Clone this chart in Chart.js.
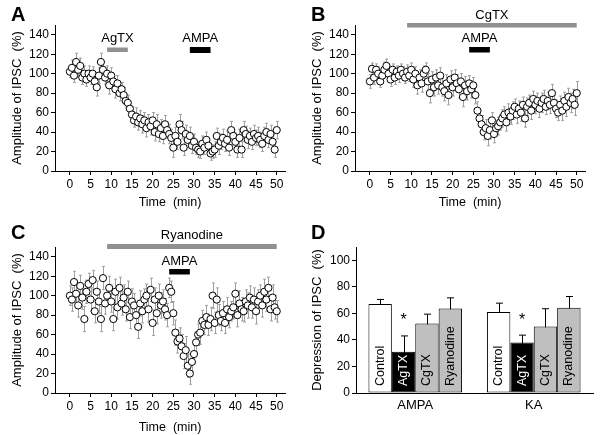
<!DOCTYPE html>
<html>
<head>
<meta charset="utf-8">
<script src="https://cdn.jsdelivr.net/npm/chart.js@4.4.1/dist/chart.umd.min.js"></script>
<style>
  body { margin: 0; background: #fff; }
  #wrap { position: relative; width: 600px; height: 435px; font-family: "Liberation Sans", Arial, sans-serif; }
  canvas { position: absolute; }
</style>
</head>
<body>
<div id="wrap">
  <canvas id="cA" width="300" height="210" style="left:0;top:0"></canvas>
  <canvas id="cB" width="300" height="210" style="left:300px;top:0"></canvas>
  <canvas id="cC" width="300" height="225" style="left:0;top:210px"></canvas>
  <canvas id="cD" width="300" height="225" style="left:300px;top:210px"></canvas>
</div>
<script>
// amplitude of IPSC (%), one value every 0.5 min from 0 to 50 min
const ampA = [102,106,98,112,104,108,96,100,94,100,96,100,92,86,98,112,104,96,100,88,
  98,92,84,90,80,84,78,72,70,64,58,52,56,50,54,48,52,44,50,46,
  52,40,48,38,44,36,48,42,38,34,24,36,30,48,42,24,38,32,36,26,
  30,24,22,20,28,24,32,26,18,20,22,36,26,30,34,28,32,24,42,36,
  30,22,34,22,42,38,32,36,30,38,34,36,32,28,36,40,32,38,30,22,42];
const errA = [6,8,7,9,8,8,7,8,7,8,7,7,8,9,8,9,8,7,8,9,
  8,7,9,8,8,7,8,7,8,7,8,7,9,8,8,9,8,9,8,9,
  8,9,10,8,9,8,9,8,10,9,10,9,8,10,9,8,9,8,9,8,
  8,7,8,7,8,7,8,8,7,7,8,8,9,8,9,8,9,8,9,8,
  9,8,9,8,9,8,9,8,8,9,8,9,8,8,9,9,8,9,8,8,9];
const ampB = [92,105,96,104,100,92,98,104,108,100,94,104,96,102,98,104,100,96,102,98,
  104,94,100,88,96,90,100,104,92,80,94,86,96,88,98,86,82,90,78,94,
  86,96,90,84,92,76,88,82,90,84,88,78,62,54,48,40,44,36,42,52,
  38,44,46,50,54,58,50,60,56,62,66,58,64,60,68,54,66,70,62,74,
  68,72,64,70,74,66,72,68,80,70,64,60,68,62,72,66,76,70,74,68,80];
const errB = [7,6,7,6,7,6,7,8,7,6,7,6,7,6,7,6,7,6,7,6,
  7,8,7,9,8,9,8,7,8,10,8,9,8,9,8,9,10,9,10,9,
  9,8,9,9,8,10,9,9,8,9,8,9,9,8,9,8,9,10,9,8,
  9,8,9,8,9,8,9,9,8,9,8,9,8,9,8,9,9,8,9,8,
  9,8,9,10,9,8,9,9,9,8,9,8,9,10,9,10,9,10,10,11,12];
const ampC = [100,96,114,102,90,110,98,76,104,112,96,116,84,104,94,76,118,92,100,108,
  94,76,104,88,108,92,98,86,104,78,94,90,80,68,92,84,96,100,86,106,
  72,96,82,100,90,94,86,80,108,104,82,62,53,56,48,38,44,28,20,32,
  40,52,60,62,74,70,78,70,76,100,72,96,80,74,82,72,86,78,84,88,
  102,80,92,86,84,94,90,98,88,96,84,94,100,90,104,96,108,86,98,88,84];
const errC = [10,12,11,13,12,11,12,13,12,11,12,10,12,11,12,13,12,11,10,12,
  11,12,13,12,11,12,13,12,11,12,13,12,11,12,13,12,11,12,13,12,
  13,12,11,12,13,12,11,12,10,11,12,13,12,11,12,13,14,12,11,10,
  9,10,11,12,11,10,12,11,12,13,11,12,11,10,12,11,12,11,10,12,
  11,12,13,12,11,12,13,12,11,12,13,12,11,12,13,12,11,12,13,12,11];

// treatment periods [label, start min, end min]
const drugsA = [['AgTX', 9, 14], ['AMPA', 29, 34]];
const drugsB = [['CgTX', 9, 50], ['AMPA', 24, 29]];
const drugsC = [['Ryanodine', 9, 50], ['AMPA', 24, 29]];

const timeTicks = [0, 5, 10, 15, 20, 25, 30, 35, 40, 45, 50];
const ampTicks = [0, 20, 40, 60, 80, 100, 120, 140];

// panel D: depression of IPSC (%)
const agonists = ['AMPA', 'KA'];
const groupNames = ['Control', 'AgTX', 'CgTX', 'Ryanodine'];
const control = [67, 61];
const controlErr = [3.5, 6.7];
const agtx = [31, 38];
const agtxErr = [12, 5.6];
const cgtx = [52.4, 50.1];
const cgtxErr = [7, 13.4];
const ryanodine = [63.7, 64.2];
const ryanodineErr = [8, 8.5];
const depTicks = [0, 20, 40, 60, 80, 100];

const FONT = '"Liberation Sans", Arial, sans-serif';

const errorBars = {
  id: 'errorBars',
  beforeDatasetsDraw(chart, args, opts) {
    const { ctx, scales: { x, y } } = chart;
    ctx.save();
    ctx.strokeStyle = opts.color;
    ctx.lineWidth = 1;
    chart.data.datasets.forEach((ds, di) => {
      const meta = chart.getDatasetMeta(di);
      const errs = opts.errors[di];
      ds.data.forEach((v, i) => {
        const val = typeof v === 'object' ? v.y : v;
        const px = Math.round(meta.data[i].x) + 0.5;
        const t = y.getPixelForValue(val + errs[i]);
        const b = y.getPixelForValue(val - errs[i]);
        ctx.beginPath();
        ctx.moveTo(px, t); ctx.lineTo(px, b);
        ctx.moveTo(px - opts.cap, t); ctx.lineTo(px + opts.cap, t);
        ctx.moveTo(px - opts.cap, b); ctx.lineTo(px + opts.cap, b);
        ctx.stroke();
      });
    });
    ctx.restore();
  }
};

const panelLetter = {
  id: 'panelLetter',
  afterDraw(chart, args, opts) {
    const ctx = chart.ctx;
    ctx.save();
    ctx.fillStyle = '#000';
    ctx.font = 'bold 20px ' + FONT;
    ctx.textBaseline = 'alphabetic';
    ctx.fillText(opts.text, opts.x, opts.y);
    ctx.restore();
  }
};

const drugBars = {
  id: 'drugBars',
  afterDraw(chart, args, opts) {
    const { ctx, scales: { x } } = chart;
    ctx.save();
    opts.items.forEach((d, i) => {
      const st = opts.styles[i];
      const x0 = x.getPixelForValue(d[1]);
      const x1 = x.getPixelForValue(d[2]);
      ctx.fillStyle = st.color;
      ctx.fillRect(x0, st.barY, x1 - x0, st.barH);
      ctx.fillStyle = '#000';
      ctx.font = '13px ' + FONT;
      ctx.textAlign = 'center';
      ctx.textBaseline = 'middle';
      ctx.fillText(d[0], (x0 + x1) / 2, st.labelY);
    });
    ctx.restore();
  }
};

function axisStyle() {
  return {
    grid: { drawOnChartArea: false, drawTicks: true, tickLength: 4, color: '#000' },
    border: { color: '#000', width: 1 },
    ticks: { color: '#000', font: { family: FONT, size: 12 }, padding: 2 }
  };
}

function timeChart(id, amps, errs, drugs, letter, letterY, top, xAxisH, styles) {
  const pts = amps.map((v, i) => ({ x: i * 0.5, y: v }));
  const xs = axisStyle();
  const ys = axisStyle();
  return new Chart(document.getElementById(id), {
    type: 'scatter',
    data: {
      datasets: [{
        data: pts,
        pointRadius: 3.6,
        pointBorderWidth: 1,
        pointBorderColor: '#000',
        pointBackgroundColor: '#fff'
      }]
    },
    options: {
      responsive: false,
      animation: false,
      layout: { padding: { left: 0, right: 15, top: top, bottom: 0 } },
      plugins: {
        legend: { display: false },
        tooltip: { enabled: false },
        errorBars: { errors: [errs], color: '#a0a0a0', cap: 1.5 },
        panelLetter: { text: letter, x: 11, y: letterY },
        drugBars: { items: drugs, styles: styles }
      },
      scales: {
        x: Object.assign(xs, {
          type: 'linear', min: -3.6, max: 52,
          afterBuildTicks: s => { s.ticks = timeTicks.map(v => ({ value: v })); },
          afterFit: s => { s.height = xAxisH; },
          title: { display: true, text: 'Time  (min)', color: '#000', font: { family: FONT, size: 12.5 }, padding: { top: 0, bottom: 0 } }
        }),
        y: Object.assign(ys, {
          min: 0, max: 150,
          afterBuildTicks: s => { s.ticks = ampTicks.map(v => ({ value: v })); },
          afterFit: s => { s.width = 55; },
          title: { display: true, text: 'Amplitude of IPSC  (%)', color: '#000', font: { family: FONT, size: 13 }, padding: { top: 10, bottom: 0 } }
        })
      }
    },
    plugins: [errorBars, panelLetter, drugBars]
  });
}

timeChart('cA', ampA, errA, drugsA, 'A', 21, 25, 39, [
  { color: '#909090', barY: 47.5, barH: 4.5, labelY: 38 },
  { color: '#000', barY: 47, barH: 6, labelY: 38 }
]);
timeChart('cB', ampB, errB, drugsB, 'B', 21, 25, 39, [
  { color: '#909090', barY: 23, barH: 4.5, labelY: 15 },
  { color: '#000', barY: 47, barH: 5.5, labelY: 38 }
]);
timeChart('cC', ampC, errC, drugsC, 'C', 29, 37, 42, [
  { color: '#909090', barY: 34, barH: 5, labelY: 25 },
  { color: '#000', barY: 59, barH: 5.5, labelY: 51 }
]);

// panel D bars
const barLabels = {
  id: 'barLabels',
  afterDatasetsDraw(chart, args, opts) {
    const { ctx, scales: { y } } = chart;
    ctx.save();
    chart.data.datasets.forEach((ds, di) => {
      const meta = chart.getDatasetMeta(di);
      meta.data.forEach(bar => {
        ctx.save();
        ctx.translate(bar.x, y.getPixelForValue(0) - 7);
        ctx.rotate(-Math.PI / 2);
        ctx.fillStyle = opts.colors[di];
        ctx.font = '12.5px ' + FONT;
        ctx.textAlign = 'left';
        ctx.textBaseline = 'middle';
        ctx.fillText(ds.label, 0, 0);
        ctx.restore();
      });
    });
    // significance marks
    const meta = chart.getDatasetMeta(opts.starSet);
    ctx.fillStyle = '#000';
    ctx.font = '16px ' + FONT;
    ctx.textAlign = 'center';
    ctx.textBaseline = 'middle';
    meta.data.forEach(bar => ctx.fillText('*', bar.x, y.getPixelForValue(opts.starAt) + 2));
    ctx.restore();
  }
};

const dx = axisStyle();
const dy = axisStyle();
new Chart(document.getElementById('cD'), {
  type: 'bar',
  data: {
    labels: agonists,
    datasets: [
      { label: groupNames[0], data: control, backgroundColor: '#fff', borderColor: '#000', borderWidth: 1, borderSkipped: false },
      { label: groupNames[1], data: agtx, backgroundColor: '#000', borderColor: '#000', borderWidth: 1, borderSkipped: false },
      { label: groupNames[2], data: cgtx, backgroundColor: '#bfbfbf', borderColor: '#000', borderWidth: 1, borderSkipped: false },
      { label: groupNames[3], data: ryanodine, backgroundColor: '#bfbfbf', borderColor: '#000', borderWidth: 1, borderSkipped: false }
    ]
  },
  options: {
    responsive: false,
    animation: false,
    categoryPercentage: 0.79,
    barPercentage: 1,
    layout: { padding: { left: 0, right: 7, top: 37, bottom: 0 } },
    plugins: {
      legend: { display: false },
      tooltip: { enabled: false },
      errorBars: { errors: [controlErr, agtxErr, cgtxErr, ryanodineErr], color: '#000', cap: 3.5 },
      panelLetter: { text: 'D', x: 11, y: 29 },
      barLabels: { colors: ['#000', '#fff', '#000', '#000'], starSet: 1, starAt: 56 }
    },
    scales: {
      x: Object.assign(dx, {
        grid: { drawOnChartArea: false, drawTicks: false },
        ticks: { color: '#000', font: { family: FONT, size: 13 }, padding: 5 },
        afterFit: s => { s.height = 42; }
      }),
      y: Object.assign(dy, {
        min: 0, max: 110,
        afterBuildTicks: s => { s.ticks = depTicks.map(v => ({ value: v })); },
        afterFit: s => { s.width = 56; },
        title: { display: true, text: 'Depression of IPSC  (%)', color: '#000', font: { family: FONT, size: 13 }, padding: { top: 10, bottom: 0 } }
      })
    }
  },
  plugins: [errorBars, barLabels, panelLetter]
});
</script>
</body>
</html>
